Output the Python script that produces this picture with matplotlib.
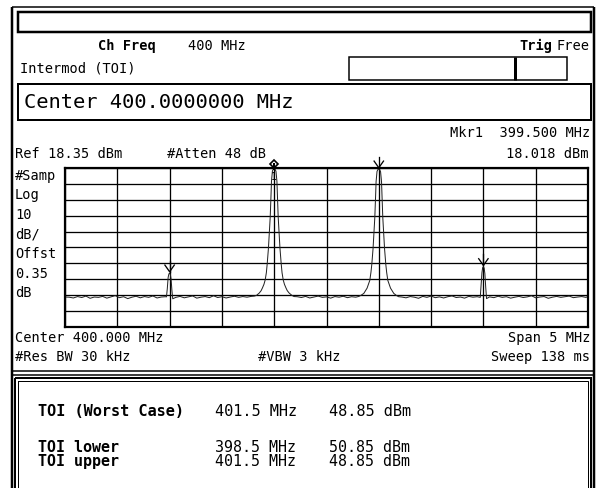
import numpy as np
import matplotlib
matplotlib.use("Agg")
import matplotlib.pyplot as plt
from matplotlib.patches import Rectangle

span_start, span_stop = 397.5, 402.5          # MHz
ref_level = 18.35                              # dBm (top of graticule)
db_per_div = 10
n_div = 10

edge_left_freq = [397.500, 397.503]
edge_left_dbm = [-49.5, -62.8]

floor1_freq = np.round(np.arange(397.54, 398.47, 0.04), 3)
floor1_dbm = [-62.9, -63.4, -62.5, -63.1, -62.2, -63.6, -62.8, -63.0, -62.4, -63.5,
              -62.7, -61.9, -63.2, -62.6, -63.8, -62.9, -62.3, -63.3, -62.5, -63.0,
              -62.1, -63.4, -62.8, -62.6]

im_low_freq = [398.470, 398.478, 398.486, 398.493, 398.500, 398.507, 398.514, 398.522, 398.530]
im_low_dbm = [-62.7, -57.5, -50.5, -48.3, -47.7, -48.6, -51.5, -58.5, -63.9]

floor2_freq = np.round(np.arange(398.56, 399.29, 0.04), 3)
floor2_dbm = [-63.0, -62.4, -63.3, -62.7, -62.1, -63.5, -62.9, -62.5, -63.2, -62.0,
              -63.1, -62.6, -63.4, -62.8, -62.3, -63.0, -62.5, -62.9, -62.4]

tone1_freq = [399.310, 399.330, 399.357, 399.375, 399.388, 399.402, 399.414, 399.425,
              399.433, 399.445, 399.454, 399.462, 399.467, 399.471, 399.474, 399.483,
              399.492, 399.500, 399.508, 399.517, 399.526, 399.529, 399.533, 399.538,
              399.546, 399.555, 399.567, 399.575, 399.586, 399.598, 399.612, 399.625,
              399.643, 399.670, 399.690]
tone1_dbm = [-62.2, -61.8, -60.3, -58.8, -57.0, -54.8, -52.0, -47.5, -42.0, -32.0,
             -22.0, -12.3, -4.0, 4.0, 10.0, 16.5, 17.7, 18.02, 17.6, 16.3, 10.0, 4.0,
             -4.0, -12.3, -22.0, -32.0, -42.0, -47.5, -52.0, -54.8, -57.0, -58.8,
             -60.3, -61.8, -62.5]

floor3_freq = np.round(np.arange(399.72, 400.29, 0.04), 3)
floor3_dbm = [-62.6, -63.1, -62.4, -63.4, -62.8, -62.2, -63.0, -62.7, -63.5, -62.5,
              -62.9, -62.3, -63.2, -62.6, -62.9]

tone2_freq = [400.310, 400.330, 400.357, 400.375, 400.388, 400.402, 400.414, 400.425,
              400.433, 400.445, 400.454, 400.462, 400.467, 400.471, 400.474, 400.483,
              400.492, 400.500, 400.508, 400.517, 400.526, 400.529, 400.533, 400.538,
              400.546, 400.555, 400.567, 400.575, 400.586, 400.598, 400.612, 400.625,
              400.643, 400.670, 400.690]
tone2_dbm = [-62.4, -61.7, -60.5, -58.6, -57.2, -54.6, -52.3, -47.2, -42.3, -32.4,
             -22.3, -12.6, -4.3, 3.7, 9.7, 16.2, 17.4, 17.7, 17.3, 16.0, 9.7, 3.7,
             -4.3, -12.6, -22.3, -32.4, -42.3, -47.2, -52.3, -54.6, -57.2, -58.6,
             -60.5, -61.9, -62.6]

floor4_freq = np.round(np.arange(400.72, 401.45, 0.04), 3)
floor4_dbm = [-62.8, -63.3, -62.5, -62.9, -63.6, -62.4, -63.0, -62.2, -63.2, -62.7,
              -63.4, -62.6, -62.1, -63.1, -62.8, -63.5, -62.4, -62.9, -62.6]

im_up_freq = [401.470, 401.478, 401.486, 401.493, 401.500, 401.507, 401.514, 401.522, 401.530]
im_up_dbm = [-63.0, -55.5, -47.5, -44.3, -43.7, -44.6, -48.0, -56.5, -63.8]

floor5_freq = np.round(np.arange(401.56, 402.49, 0.04), 3)
floor5_dbm = [-62.7, -63.2, -62.3, -63.0, -62.6, -63.5, -62.9, -62.4, -63.1, -62.7,
              -62.0, -63.3, -62.8, -62.5, -63.6, -62.9, -62.4, -63.0, -62.6, -62.2,
              -63.2, -62.8, -62.5, -63.0]

edge_right_freq = [402.497, 402.500]
edge_right_dbm = [-62.6, -49.5]

# markers: (freq, level)
mkr1 = (399.500, 18.02)
delta_markers = [(400.500, 17.7), (398.500, -47.7), (401.500, -43.7)]

# result table
toi_labels = ["TOI lower", "TOI upper"]
toi_freqs = ["398.5 MHz", "401.5 MHz"]
toi_levels = ["50.85 dBm", "48.85 dBm"]
worst_label, worst_freq, worst_level = "TOI (Worst Case)", "401.5 MHz", "48.85 dBm"

# ---------------- figure ----------------
W, H = 599, 488
fig = plt.figure(figsize=(W / 100, H / 100), dpi=100)
fig.patch.set_facecolor("white")
FONT = "DejaVu Sans Mono"

ax0 = fig.add_axes([0, 0, 1, 1])
ax0.set_xlim(0, W)
ax0.set_ylim(H, 0)
ax0.axis("off")

def px(v):
    return v * 0.72

def rect(x0, y0, x1, y1, lw):
    ax0.add_patch(Rectangle((x0, y0), x1 - x0, y1 - y0, fill=False,
                            edgecolor="black", linewidth=px(lw)))

def line(xs, ys, lw):
    ax0.plot(xs, ys, color="black", linewidth=px(lw), solid_capstyle="butt")

def txt(x, y, s, size=9.8, ha="left", weight="normal", linespacing=1.2):
    ax0.text(x, y, s, ha=ha, va="center", fontsize=size, family=FONT,
             fontweight=weight, color="black", linespacing=linespacing)

# outer frame
line([12, 12], [7, H], 2.5)
line([594, 594], [7, H], 2.5)
line([12, 594], [7, 7], 1.5)
# top box
rect(18, 12, 591, 32, 2.5)
# right status box
rect(349, 57, 567, 80, 1.5)
line([515, 515], [57, 80], 3)
# center box
rect(18, 84, 591, 120, 2)
# separator and lower box
line([12, 594], [371, 371], 1.5)
line([12, 594], [375, 375], 1.5)
rect(15, 378, 591, 492, 2)
rect(18, 381, 588, 492, 1)

# texts
txt(98, 46, "Ch Freq", weight="bold")
txt(188, 46, "400 MHz")
txt(590, 46, "Free", ha="right")
txt(552, 46, "Trig", ha="right", weight="bold")
txt(20, 69, "Intermod (TOI)")
txt(24, 102, "Center 400.0000000 MHz", size=14.7)
txt(590, 133, "Mkr1  399.500 MHz", ha="right")
txt(15, 154, "Ref 18.35 dBm")
txt(167, 154, "#Atten 48 dB")
txt(588, 154, "18.018 dBm", ha="right")
left_labels = ["#Samp", "Log", "10", "dB/", "Offst", "0.35", "dB"]
for i, s in enumerate(left_labels):
    txt(15, 176 + i * 19.5, s)
txt(15, 338, "Center 400.000 MHz")
txt(590, 338, "Span 5 MHz", ha="right")
txt(15, 357, "#Res BW 30 kHz")
txt(258, 357, "#VBW 3 kHz")
txt(590, 357, "Sweep 138 ms", ha="right")

txt(38, 412, worst_label, size=11, weight="bold")
txt(215, 412, worst_freq, size=11)
txt(329, 412, worst_level, size=11)
txt(38, 454.5, "\n".join(toi_labels), size=10.8, weight="bold", linespacing=0.9)
txt(215, 454.5, "\n".join(toi_freqs), size=10.8, linespacing=0.9)
txt(329, 454.5, "\n".join(toi_levels), size=10.8, linespacing=0.9)

# ---------------- graticule ----------------
gx0, gx1, gy0, gy1 = 65, 588, 168, 327
ax = fig.add_axes([gx0 / W, 1 - gy1 / H, (gx1 - gx0) / W, (gy1 - gy0) / H])
ax.set_facecolor("white")
ax.set_xlim(span_start, span_stop)
bottom_level = ref_level - n_div * db_per_div
ax.set_ylim(bottom_level, ref_level)
ax.set_xticks(np.linspace(span_start, span_stop, n_div + 1))
ax.set_yticks(np.linspace(bottom_level, ref_level, n_div + 1))
ax.tick_params(length=0, labelbottom=False, labelleft=False)
ax.grid(True, color="black", linewidth=px(1.3))
for sp in ax.spines.values():
    sp.set_linewidth(px(2.2))
    sp.set_color("black")

trace_f = np.concatenate([edge_left_freq, floor1_freq, im_low_freq, floor2_freq, tone1_freq,
                          floor3_freq, tone2_freq, floor4_freq, im_up_freq, floor5_freq,
                          edge_right_freq])
trace_a = np.concatenate([edge_left_dbm, floor1_dbm, im_low_dbm, floor2_dbm, tone1_dbm,
                          floor3_dbm, tone2_dbm, floor4_dbm, im_up_dbm, floor5_dbm,
                          edge_right_dbm])
ax.plot(trace_f, trace_a, color="#222222", linewidth=px(1.0))

# marker 1 (diamond) with label
ax.plot([mkr1[0]], [ref_level + 2.3], marker="D", markersize=4.5, markerfacecolor="white",
        markeredgecolor="black", markeredgewidth=1.2, clip_on=False)
ax.plot([mkr1[0], mkr1[0]], [ref_level + 2.3, ref_level - 0.5], color="black",
        linewidth=px(2), clip_on=False)
ax.text(mkr1[0], ref_level - 5.8, "1", ha="center", va="center", fontsize=7, family=FONT)

# delta markers (down arrows)
for f, lvl in delta_markers:
    tip = lvl + 0.8
    ax.plot([f, f], [tip, tip + 7], color="black", linewidth=px(1.3), clip_on=False)
    ax.plot([f - 0.045, f, f + 0.045], [tip + 4.2, tip, tip + 4.2], color="black",
            linewidth=px(1.3), clip_on=False)

fig.savefig("out.png", dpi=100, facecolor="white")
